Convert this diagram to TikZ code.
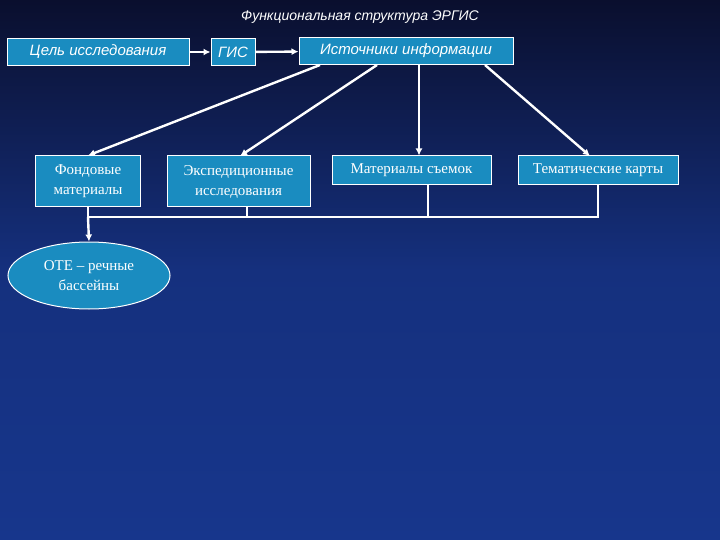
\documentclass[tikz,border=0pt]{standalone}
\usepackage{fontspec}
\setmainfont{Liberation Serif}
\newfontfamily\arial{Liberation Sans}
\usetikzlibrary{shapes.geometric,arrows.meta}
\definecolor{bxfill}{HTML}{1A8CC0}
\definecolor{bgtop}{HTML}{0A0F2E}
\definecolor{bgbot}{HTML}{17368C}
\begin{document}
\begin{tikzpicture}[x=1pt,y=-1pt,
  bx/.style={draw=white,fill=bxfill,text=white,inner sep=0pt,line width=1pt,align=center},
  arr/.style={draw=white,line width=2.4pt,-{Latex[length=7pt,width=7pt]}},
  ln/.style={draw=white,line width=2pt}]
\useasboundingbox (0,0) rectangle (720,540);
\shade[top color=bgtop,bottom color=bgbot,middle color=bgbot!85!bgtop] (0,0) rectangle (720,540);
\node[text=white,font=\arial\itshape\fontsize{14}{16}\selectfont] (title) at (360,17) {Функциональная структура ЭРГИС};
\node[bx,minimum width=182pt,minimum height=27pt,font=\arial\itshape\fontsize{15}{17}\selectfont] (goal) at (98,52) {Цель исследования};
\node[bx,minimum width=44pt,minimum height=27pt,font=\arial\itshape\fontsize{15}{17}\selectfont] (gis) at (233,52) {ГИС};
\node[bx,minimum width=214pt,minimum height=27pt,font=\arial\itshape\fontsize{15}{17}\selectfont] (src) at (406,51) {Источники информации};
\node[bx,minimum width=105pt,minimum height=51pt,font=\fontsize{15}{20}\selectfont] (fond) at (88,181.5) {Фондовые\\материалы};
\node[bx,minimum width=143pt,minimum height=51pt,font=\fontsize{15}{20}\selectfont] (exp) at (238.5,181.5) {Экспедиционные\\исследования};
\node[bx,minimum width=159pt,minimum height=29pt,font=\fontsize{15}{17}\selectfont] (mat) at (411.5,170.5) {Материалы съемок};
\node[bx,minimum width=160pt,minimum height=29pt,font=\fontsize{15}{17}\selectfont] (tem) at (598,170.5) {Тематические карты};
\node[bx,ellipse,minimum width=162pt,minimum height=67pt,inner sep=0pt,font=\fontsize{15}{20}\selectfont] (ote) at (89,275.5) {ОТЕ – речные\\бассейны};
\draw[arr] (goal) -- (gis);
\draw[arr] (gis) -- (src);
\coordinate (s1) at (320,65); \coordinate (s2) at (377,65); \coordinate (s3) at (419,65); \coordinate (s4) at (485,65);
\draw[arr] (s1) -- (fond.north);
\draw[arr] (s2) -- (240,156);
\draw[arr] (s3) -- (s3 |- mat.north);
\draw[arr] (s4) -- (590,156);
\coordinate (j1) at (88,217); \coordinate (j2) at (598,217);
\draw[ln] (fond.south) -- (j1) -- (j2) -- (tem.south);
\draw[ln] (247,207) -- (247,217);
\draw[ln] (428,185) -- (428,217);
\draw[arr] (j1) -- (ote.north);
\end{tikzpicture}
\end{document}
